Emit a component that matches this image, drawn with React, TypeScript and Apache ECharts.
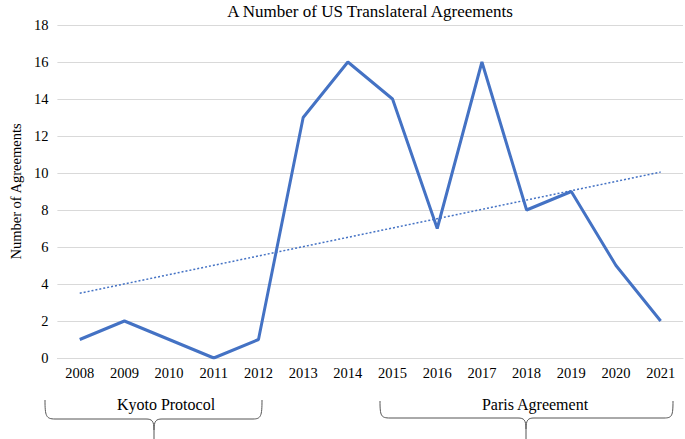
import React, { useEffect, useRef } from "react";
import * as echarts from "echarts";

const years = ["2008","2009","2010","2011","2012","2013","2014","2015","2016","2017","2018","2019","2020","2021"];
const agreements = [1, 2, 1, 0, 1, 13, 16, 14, 7, 16, 8, 9, 5, 2];
const trendEnds = [3.5, 10.05];
const yTicks = { min: 0, max: 18, interval: 2 };

const kyotoBrace = "M45 400 C45 416 46 419 55 419 L146 419 C152 419 154 421 154 430 L154 439 M154 430 C154 421 156 419 162 419 L253 419 C261 419 262 416 262 400";
const parisBrace = "M380 401 C380 416 381 418 390 418 L518 418 C524 418 526 420 526 429 L526 439 M526 429 C526 420 528 418 534 418 L664 418 C672 418 673 416 673 401";

echarts.graphic.registerShape("kyotoBrace", echarts.graphic.extendPath(kyotoBrace, {}));
echarts.graphic.registerShape("parisBrace", echarts.graphic.extendPath(parisBrace, {}));

export default function App() {
  const ref = useRef<HTMLDivElement>(null);
  useEffect(() => {
    if (!ref.current) return;
    const chart = echarts.init(ref.current, null, { renderer: "svg" });
    const trend = years.map((_, i) => (i === 0 ? trendEnds[0] : i === years.length - 1 ? trendEnds[1] : null));
    const font = "'Liberation Serif', 'Times New Roman', serif";
    chart.setOption({
      animation: false,
      backgroundColor: "#ffffff",
      textStyle: { fontFamily: font },
      grid: { left: 42, right: 2, top: 25, bottom: 81 },
      xAxis: {
        type: "category",
        data: years,
        boundaryGap: true,
        axisLine: { show: true, lineStyle: { color: "#d9d9d9" } },
        axisTick: { show: false },
        axisLabel: { fontFamily: font, fontWeight: "normal", fontSize: 14.5, color: "#000", margin: 7 },
      },
      yAxis: {
        type: "value",
        min: yTicks.min,
        max: yTicks.max,
        interval: yTicks.interval,
        name: "Number of Agreements",
        nameLocation: "middle",
        nameRotate: 90,
        nameGap: 33,
        nameTextStyle: { fontFamily: font, fontWeight: "normal", fontSize: 14.5, color: "#000" },
        axisLine: { show: false },
        axisTick: { show: false },
        axisLabel: { fontFamily: font, fontWeight: "normal", fontSize: 14.5, color: "#000", margin: 9 },
        splitLine: { lineStyle: { color: "#d9d9d9", width: 1 } },
      },
      series: [
        {
          type: "line",
          data: agreements,
          symbol: "none",
          lineStyle: { color: "#4472C4", width: 3 },
        },
        {
          type: "line",
          data: trend,
          connectNulls: true,
          symbol: "none",
          lineStyle: { color: "#4472C4", width: 1.5, type: [2, 2] },
        },
      ],
      graphic: [
        {
          type: "text",
          x: 370,
          y: 11,
          style: { text: "A Number of US Translateral Agreements", fontFamily: font, fontWeight: "normal", fontSize: 17, fill: "#000", align: "center", verticalAlign: "middle" },
        },
        { type: "kyotoBrace", x: 0, y: 0, style: { stroke: "#555", fill: "none", lineWidth: 1 } },
        { type: "parisBrace", x: 0, y: 0, style: { stroke: "#555", fill: "none", lineWidth: 1 } },
        {
          type: "text",
          x: 166,
          y: 404,
          style: { text: "Kyoto Protocol", fontFamily: font, fontWeight: "normal", fontSize: 16, fill: "#000", align: "center", verticalAlign: "middle" },
        },
        {
          type: "text",
          x: 535,
          y: 404,
          style: { text: "Paris Agreement", fontFamily: font, fontWeight: "normal", fontSize: 16, fill: "#000", align: "center", verticalAlign: "middle" },
        },
      ],
    });
    return () => chart.dispose();
  }, []);
  return <div ref={ref} style={{ position: "fixed", left: 0, top: 0, width: 685, height: 439 }} />;
}
